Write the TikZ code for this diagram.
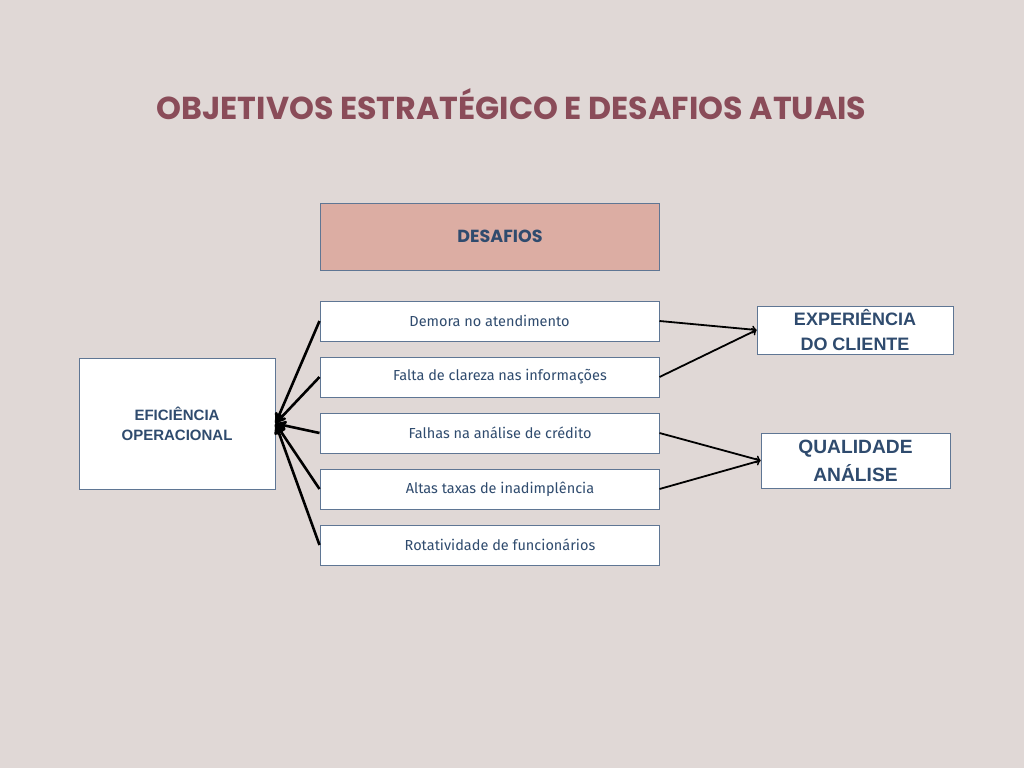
\documentclass[tikz,border=0pt]{standalone}
\usepackage{fontspec}
\setmainfont{Fira Sans}
\newfontfamily\titulofont{Poppins}
\newfontfamily\caixafont{Liberation Sans}
\usepackage{xcolor}
\usetikzlibrary{arrows,positioning,calc}

\definecolor{fundo}{HTML}{E0D8D6}
\definecolor{vinho}{HTML}{8A4C59}
\definecolor{azul}{HTML}{2F4B6E}
\definecolor{borda}{HTML}{5F7694}
\definecolor{salmao}{HTML}{DCADA3}

\tikzset{
  caixa/.style={draw=borda, line width=1pt, fill=white, text=azul, inner sep=0pt},
  desafio/.style={caixa, minimum width=339pt, minimum height=40pt, font=\fontsize{14.5}{16}\selectfont},
}

\begin{document}
\begin{tikzpicture}[x=1pt, y=-1pt, ->, >=stealth', semithick, node distance=56pt]

\fill[fundo] (0,0) rectangle (1024,768);
\useasboundingbox (0,0) rectangle (1024,768);

\node[text=vinho, font=\titulofont\bfseries\fontsize{31.7}{36}\selectfont] (Titulo) at (511.5,104) {OBJETIVOS ESTRATÉGICO E DESAFIOS ATUAIS};

\node[caixa, fill=salmao, minimum width=339pt, minimum height=67pt, font=\titulofont\bfseries\fontsize{17.5}{20}\selectfont] (Desafios) at (489.5,236.5) {\hspace*{21pt}DESAFIOS};

\node[desafio] (Demora)           at (489.5,321)           {Demora no atendimento};
\node[desafio] (Clareza)          [below of = Demora]      {\hspace*{21pt}Falta de clareza nas informações};
\node[desafio] (Falhas)           [below of = Clareza]     {\hspace*{21pt}Falhas na análise de crédito};
\node[desafio] (Inadimplencia)    [below of = Falhas]      {\hspace*{21pt}Altas taxas de inadimplência};
\node[desafio] (Rotatividade)     [below of = Inadimplencia] {\hspace*{21pt}Rotatividade de funcionários};

\node[caixa, minimum width=196pt, minimum height=131pt, align=center, font=\caixafont\bfseries\fontsize{15}{20}\selectfont] (Eficiencia) at (177,423.5) {EFICIÊNCIA\\OPERACIONAL};

\node[caixa, minimum width=196pt, minimum height=48pt, align=center, font=\caixafont\bfseries\fontsize{18}{25}\selectfont] (Experiencia) at (855,330) {EXPERIÊNCIA\\ DO CLIENTE};
\node[caixa, minimum width=189pt, minimum height=55pt, align=center, font=\caixafont\bfseries\fontsize{19.2}{28}\selectfont] (Qualidade) at (855.5,460.5) {QUALIDADE\\ ANÁLISE};

% desafios -> eficiencia
\path[line width=2.6pt] (Demora.west)        edge (Eficiencia.east);
\path[line width=2.6pt] (Clareza.west)       edge (Eficiencia.east);
\path[line width=2.6pt] (Falhas.west)        edge (Eficiencia.east);
\path[line width=2.6pt] (Inadimplencia.west) edge (Eficiencia.east);
\path[line width=2.6pt] (Rotatividade.west)  edge (Eficiencia.east);

% desafios -> objetivos
\path[-to, line width=1.8pt] (Demora.east)        edge (Experiencia.west);
\path[-to, line width=1.8pt] (Clareza.east)       edge (Experiencia.west);
\path[-to, line width=1.8pt] (Falhas.east)        edge (Qualidade.west);
\path[-to, line width=1.8pt] (Inadimplencia.east) edge (Qualidade.west);

\end{tikzpicture}
\end{document}
